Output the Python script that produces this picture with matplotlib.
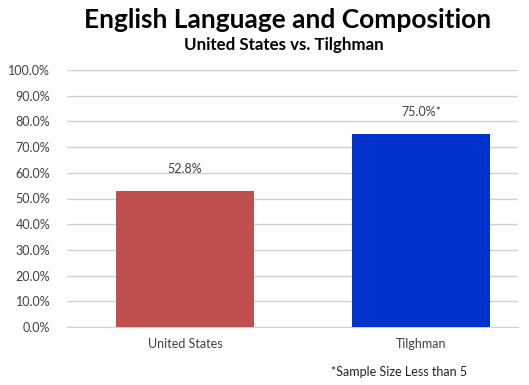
import matplotlib
matplotlib.use('Agg')
import matplotlib.pyplot as plt
from matplotlib.ticker import PercentFormatter

# Chart data
categories = ['United States', 'Tilghman']
percents = [52.8, 75.0]
value_labels = ['52.8%', '75.0%*']
bar_colors = ['#C0504D', '#0033CC']
y_ticks = [0, 10, 20, 30, 40, 50, 60, 70, 80, 90, 100]

plt.rcParams['font.family'] = ['Lato', 'DejaVu Sans']

fig = plt.figure(figsize=(5.29, 3.85), dpi=100)
ax = fig.add_axes([67 / 529, 1 - 327 / 385, (518 - 67) / 529, (327 - 70) / 385])

x = range(len(categories))
bars = ax.bar(x, percents, width=0.585, color=bar_colors, zorder=3)

for rect, lab in zip(bars, value_labels):
    ax.annotate(lab, (rect.get_x() + rect.get_width() / 2, rect.get_height()),
                xytext=(0, 12), textcoords='offset points',
                ha='center', va='bottom', fontsize=9, color='#404040')

ax.set_ylim(0, 100)
ax.set_xlim(-0.5, 1.41)
ax.set_yticks(y_ticks)
ax.yaxis.set_major_formatter(PercentFormatter(decimals=1))
ax.set_xticks(list(x))
ax.set_xticklabels(categories)
ax.tick_params(axis='both', length=0, labelsize=9, colors='#404040')
ax.tick_params(axis='y', pad=12)
ax.tick_params(axis='x', pad=8)

ax.grid(axis='y', color='#D0D0D0', linewidth=1, zorder=0)
for side in ['top', 'right', 'left']:
    ax.spines[side].set_visible(False)
ax.spines['bottom'].set_color('#D0D0D0')

fig.text(0.543, 0.948, 'English Language and Composition', ha='center', va='center',
         fontsize=19, fontweight='bold', color='#000000')
fig.text(0.537, 0.882, 'United States vs. Tilghman', ha='center', va='center',
         fontsize=12.2, fontweight='bold', color='#000000')
fig.text(0.755, 0.033, '*Sample Size Less than 5', ha='center', va='center',
         fontsize=9, color='#222222')

fig.savefig('out.png', dpi=100)
